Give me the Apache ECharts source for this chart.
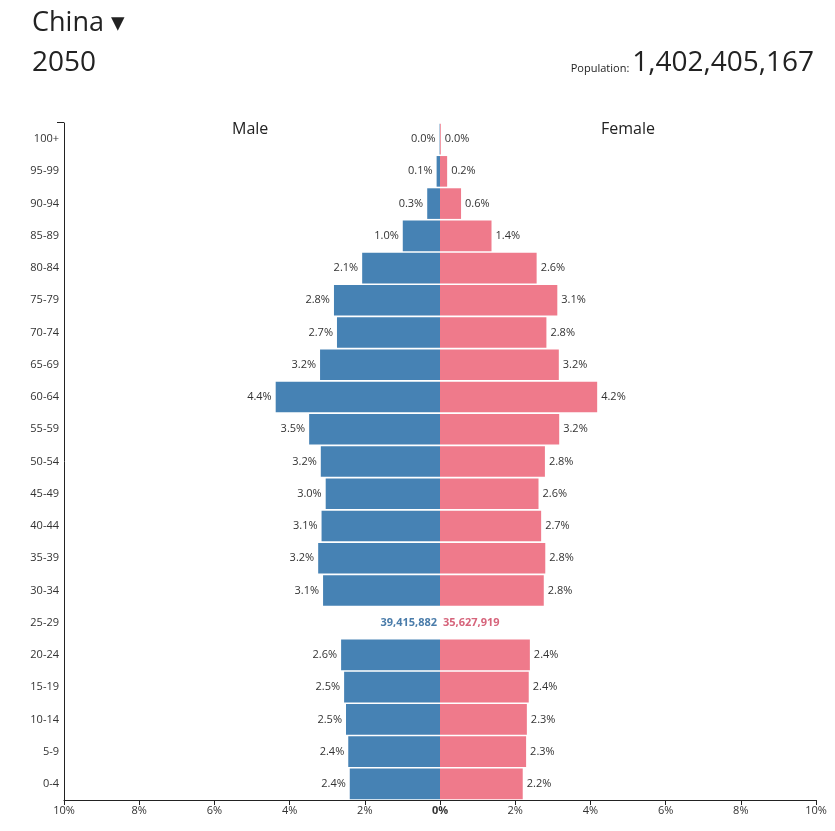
<!DOCTYPE html>
<html>
<head>
<meta charset="utf-8">
<script src="https://cdn.jsdelivr.net/npm/echarts@6/dist/echarts.min.js"></script>
<style>
  html, body { margin: 0; padding: 0; background: #fff; }
  #chart { width: 835px; height: 831px; }
</style>
</head>
<body>
<div id="chart"></div>
<script>
// age groups, bottom to top
var ageGroups = ['0-4', '5-9', '10-14', '15-19', '20-24', '25-29', '30-34', '35-39', '40-44', '45-49',
  '50-54', '55-59', '60-64', '65-69', '70-74', '75-79', '80-84', '85-89', '90-94', '95-99', '100+']
// share of total population, %
var malePct = [2.40, 2.44, 2.50, 2.55, 2.63, null, 3.11, 3.24, 3.15, 3.04,
  3.17, 3.48, 4.37, 3.19, 2.74, 2.82, 2.07, 0.99, 0.34, 0.09, 0.01]
var femalePct = [2.20, 2.29, 2.31, 2.36, 2.39, null, 2.76, 2.80, 2.69, 2.62,
  2.79, 3.17, 4.18, 3.16, 2.83, 3.12, 2.57, 1.37, 0.56, 0.19, 0.02]
// highlighted row shows absolute numbers instead of bars
var hoverGroup = '25-29'
var hoverMale = 39415882
var hoverFemale = 35627919

var country = 'China'
var year = '2050'
var population = 1402405167

var fontFamily = '"Segoe UI", "Open Sans", "Noto Sans", sans-serif'
var maleColor = '#4682b4'
var femaleColor = '#ef7a8b'

function fmtNum(n) {
  return n.toString().replace(/\B(?=(\d{3})+(?!\d))/g, ',')
}

var hoverIdx = ageGroups.indexOf(hoverGroup)

var maleData = malePct.map(function(v, i) {
  if (i === hoverIdx) {
    return {
      value: 0,
      label: { show: true, formatter: fmtNum(hoverMale), color: '#4a7caa', fontWeight: 'bold', distance: 3 }
    }
  }
  return -v
})
var femaleData = femalePct.map(function(v, i) {
  if (i === hoverIdx) {
    return {
      value: 0,
      label: { show: true, formatter: fmtNum(hoverFemale), color: '#d6647b', fontWeight: 'bold', distance: 3 }
    }
  }
  return v
})

var chart = echarts.init(document.getElementById('chart'))

chart.setOption({
  animation: false,
  textStyle: { fontFamily: fontFamily },
  title: [{
    text: country + ' \u25BE',
    left: 27,
    top: 5,
    textStyle: { fontSize: 27, fontWeight: 'normal', color: '#222', fontFamily: fontFamily }
  }, {
    text: year,
    left: 27,
    top: 44,
    textStyle: { fontSize: 28, fontWeight: 'normal', color: '#222', fontFamily: fontFamily }
  }, {
    text: '{s|Population: }{b|' + fmtNum(population) + '}',
    right: 16,
    top: 44,
    textStyle: {
      fontWeight: 'normal',
      rich: {
        s: { fontSize: 11, fontWeight: 'normal', color: '#222', fontFamily: fontFamily, verticalAlign: 'bottom', padding: [0, 0, 3, 0] },
        b: { fontSize: 28, fontWeight: 'normal', color: '#222', fontFamily: fontFamily }
      }
    }
  }],
  graphic: [{
    type: 'text',
    left: 232,
    top: 121,
    style: { text: 'Male', fontSize: 16, fill: '#222', fontFamily: fontFamily }
  }, {
    type: 'text',
    left: 601,
    top: 121,
    style: { text: 'Female', fontSize: 16, fill: '#222', fontFamily: fontFamily }
  }, {
    type: 'line',
    shape: { x1: 57, y1: 122.5, x2: 64, y2: 122.5 },
    style: { stroke: '#222', lineWidth: 1 }
  }],
  grid: {
    left: 64,
    right: 19,
    top: 123,
    bottom: 31
  },
  xAxis: {
    type: 'value',
    min: -10,
    max: 10,
    interval: 2,
    splitLine: { show: false },
    axisLine: { show: true, lineStyle: { color: '#222', width: 1 } },
    axisTick: { show: true, length: 5, lineStyle: { color: '#222' } },
    axisLabel: {
      fontSize: 11,
      color: '#333',
      margin: 5,
      formatter: function(v) {
        if (v === 0) return '{b|0%}'
        return Math.abs(v) + '%'
      },
      rich: { b: { fontSize: 11, fontWeight: 'bold', color: '#333' } }
    }
  },
  yAxis: {
    type: 'category',
    data: ageGroups,
    axisLine: { show: true, onZero: false, lineStyle: { color: '#222', width: 1 } },
    axisTick: { show: false },
    axisLabel: { fontSize: 11, color: '#333', margin: 5 }
  },
  series: [{
    name: 'Male',
    type: 'bar',
    data: maleData,
    barGap: '-100%',
    barCategoryGap: '5%',
    itemStyle: { color: maleColor },
    label: {
      show: true,
      position: 'left',
      distance: 4,
      fontSize: 11,
      color: '#333',
      formatter: function(p) { return Math.abs(p.value).toFixed(1) + '%' }
    }
  }, {
    name: 'Female',
    type: 'bar',
    data: femaleData,
    barGap: '-100%',
    barCategoryGap: '5%',
    itemStyle: { color: femaleColor },
    label: {
      show: true,
      position: 'right',
      distance: 4,
      fontSize: 11,
      color: '#333',
      formatter: function(p) { return Math.abs(p.value).toFixed(1) + '%' }
    }
  }]
})
</script>
</body>
</html>
